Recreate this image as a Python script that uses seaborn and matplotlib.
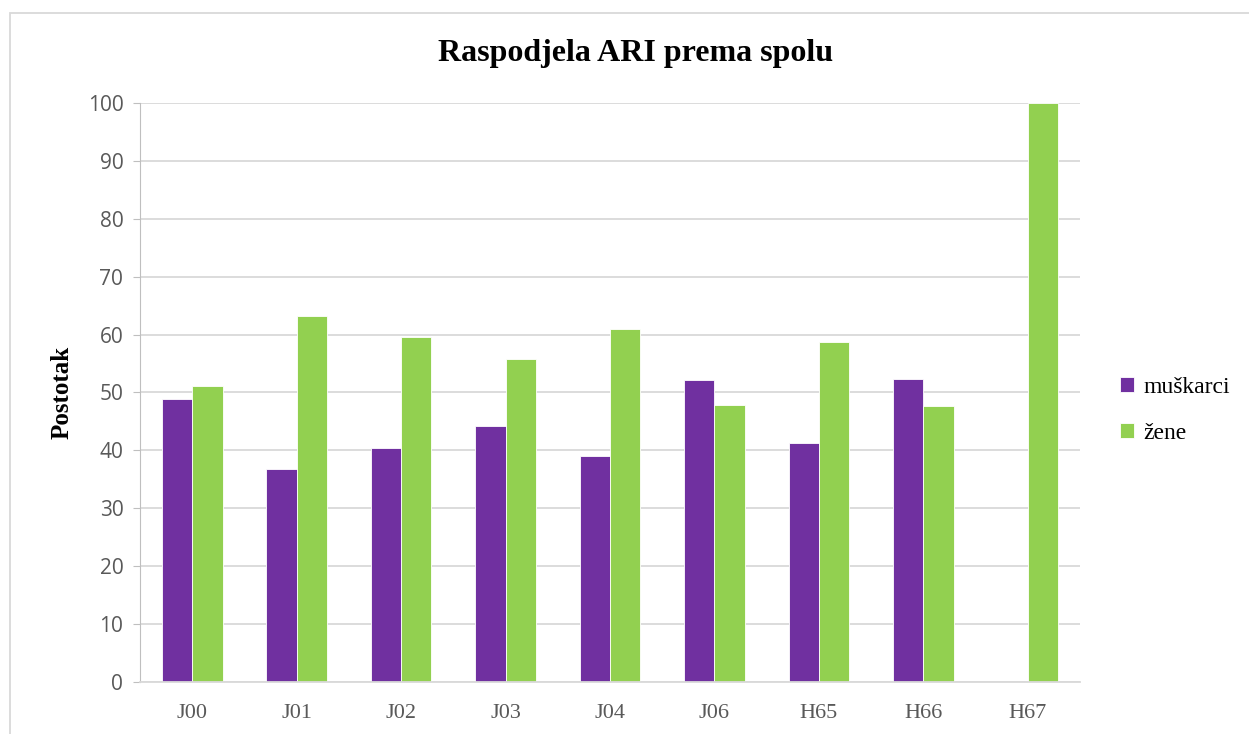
import seaborn as sns
import matplotlib.pyplot as plt
import pandas as pd
from matplotlib.patches import Rectangle

categories = ['J00', 'J01', 'J02', 'J03', 'J04', 'J06', 'H65', 'H66', 'H67']
muskarci = [48.9, 36.8, 40.5, 44.3, 39.1, 52.2, 41.2, 52.4, 0.0]
zene = [51.1, 63.2, 59.5, 55.7, 60.9, 47.8, 58.8, 47.6, 100.0]
series = ['muškarci', 'žene']
colors = ['#7030A0', '#92D050']

df = pd.DataFrame({
    'kod': categories * 2,
    'spol': [series[0]] * len(categories) + [series[1]] * len(categories),
    'postotak': muskarci + zene,
})

sns.set_style('white')
fig = plt.figure(figsize=(12.49, 7.34), dpi=100)
ax = fig.add_axes([140 / 1249, 52 / 734, 940 / 1249, 579 / 734])

sns.barplot(data=df, x='kod', y='postotak', hue='spol', palette=colors,
            width=0.58, ax=ax, saturation=1, legend=True)
for p in ax.patches:
    p.set_edgecolor('white')
    p.set_linewidth(0.6)

ax.set_ylim(0, 100)
ax.set_xlim(-0.5, len(categories) - 0.5)
ax.set_yticks(range(0, 101, 10))
ax.yaxis.grid(True, color='#D9D9D9', linewidth=1.3)
ax.set_axisbelow(True)
for s in ['top', 'right']:
    ax.spines[s].set_visible(False)
ax.spines['left'].set_color('#BFBFBF')
ax.spines['left'].set_linewidth(0.8)
ax.spines['bottom'].set_color('#D9D9D9')
ax.spines['bottom'].set_linewidth(1.3)
ax.tick_params(axis='y', left=True, length=5, color='#BFBFBF', labelsize=15,
               labelcolor='#595959', pad=7)
ax.tick_params(axis='x', bottom=False, labelsize=16, labelcolor='#595959', pad=12)
for lbl in ax.get_yticklabels():
    lbl.set_family('Open Sans')
for lbl in ax.get_xticklabels():
    lbl.set_family('Liberation Serif')

ax.set_xlabel('')
ax.set_ylabel('Postotak', fontsize=18, fontweight='bold', family='Liberation Serif',
              color='black')
ax.yaxis.set_label_coords(-66 / 940, 0.5)

fig.text(636 / 1249, 1 - 54 / 734, 'Raspodjela ARI prema spolu', ha='center', va='center',
         fontsize=23, fontweight='bold', family='Liberation Serif', color='black')

leg = ax.legend(loc='center left', bbox_to_anchor=(1.02, 0.469), frameon=False,
                prop={'family': 'Liberation Serif', 'size': 17}, handlelength=0.6,
                handleheight=0.6, handletextpad=0.4, labelspacing=1.05)
for t in leg.get_texts():
    t.set_color('black')

fig.patches.append(Rectangle((10 / 1249, -0.01), 1.0, 1 - 13 / 734 + 0.01,
                             transform=fig.transFigure, fill=False,
                             edgecolor='#D9D9D9', linewidth=1.3))

plt.savefig('out.png', dpi=100)
